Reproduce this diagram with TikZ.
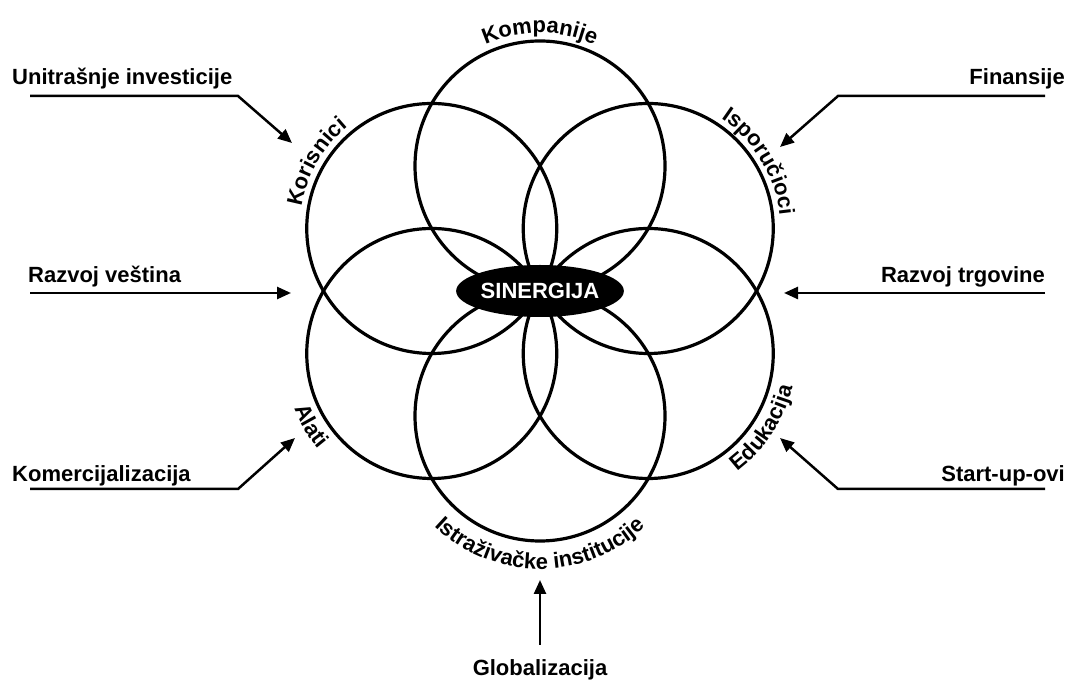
\documentclass[tikz,border=0pt]{standalone}
\usepackage{fontspec}
\usetikzlibrary{arrows.meta,shapes.geometric,decorations.text,calc}
\newfontfamily\labfam{Liberation Sans}
\newcommand\labfont{\labfam\bfseries\fontsize{22pt}{26pt}\selectfont}
\begin{document}
\begin{tikzpicture}[x=1pt,y=1pt,
  ring/.style={circle, draw, line width=3.2pt, minimum size=250pt, inner sep=0pt},
  lbl/.style={font=\labfont, inner sep=0pt},
  arr/.style={line width=2.5pt, -{Triangle[length=14pt,width=12pt]}},
  outtext/.style={decorate, decoration={text along path, text align=center, text={|\labfont|#1}}},
]
\useasboundingbox (0,0) rectangle (1079,680);
% centre
\coordinate (c) at (540,389);
% six circles
\node[ring] (cT)  at ($(c)+(90:125)$)  {};
\node[ring] (cUR) at ($(c)+(30:125)$)  {};
\node[ring] (cLR) at ($(c)+(-30:125)$) {};
\node[ring] (cB)  at ($(c)+(-90:125)$) {};
\node[ring] (cLL) at ($(c)+(210:125)$) {};
\node[ring] (cUL) at ($(c)+(150:125)$) {};
% centre ellipse
\node[ellipse, fill=black, minimum width=154pt, minimum height=52pt, inner sep=0pt,
      text=white, font=\labfont] (sin) at (c) {SINERGIJA};
% curved labels (outside, reading clockwise)
\path[outtext=Kompanije] ([shift={(160:133)}]cT.center) arc[start angle=160, end angle=20, radius=133];
\path[outtext=Korisnici] ([shift={(220:132)}]cUL.center) arc[start angle=220, end angle=80, radius=132];
\path[outtext=Isporučioci] ([shift={(101:132)}]cUR.center) arc[start angle=101, end angle=-39, radius=132];
% curved labels (inside, reading counterclockwise)
\path[outtext=Istraživačke institucije] ([shift={(195:153)}]cB.center) arc[start angle=195, end angle=345, radius=153];
\path[outtext=Alati] ([shift={(141:148)}]cLL.center) arc[start angle=141, end angle=281, radius=148];
\path[outtext=Edukacija] ([shift={(257:148)}]cLR.center) arc[start angle=257, end angle=397, radius=148];
% outer labels
\node[lbl, anchor=base west] (l1) at (12,595) {Unitrašnje investicije};
\node[lbl, anchor=base east] (l2) at (1065,595) {Finansije};
\node[lbl, anchor=base west] (l3) at (28,397) {Razvoj veština};
\node[lbl, anchor=base east] (l4) at (1045,397) {Razvoj trgovine};
\node[lbl, anchor=base west] (l5) at (12,198) {Komercijalizacija};
\node[lbl, anchor=base east] (l6) at (1065,198) {Start-up-ovi};
\node[lbl, anchor=base] (l7) at (540,5) {Globalizacija};
% arrow coordinates
\coordinate (a1s) at (30,584);   \coordinate (a1b) at (238,584);  \coordinate (a1t) at (292,537);
\coordinate (a2s) at (1045,584); \coordinate (a2b) at (838,584);  \coordinate (a2t) at (780,533);
\coordinate (a3s) at (30,387);   \coordinate (a3t) at (291,387);
\coordinate (a4s) at (1045,387); \coordinate (a4t) at (784,387);
\coordinate (a5s) at (30,191);   \coordinate (a5b) at (238,191);  \coordinate (a5t) at (295,242);
\coordinate (a6s) at (1045,191); \coordinate (a6b) at (838,191);  \coordinate (a6t) at (780,242);
\coordinate (a7s) at (540,35);   \coordinate (a7t) at (540,100);
\draw[arr] (a1s) -- (a1b) -- (a1t);
\draw[arr] (a2s) -- (a2b) -- (a2t);
\draw[arr] (a3s) -- (a3t);
\draw[arr] (a4s) -- (a4t);
\draw[arr] (a5s) -- (a5b) -- (a5t);
\draw[arr] (a6s) -- (a6b) -- (a6t);
\draw[arr] (a7s) -- (a7t);
\end{tikzpicture}
\end{document}
